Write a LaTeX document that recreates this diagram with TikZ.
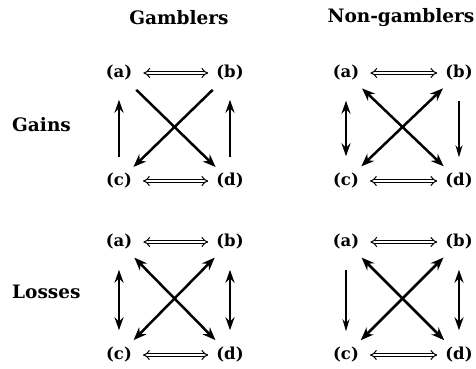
\documentclass[tikz,border=0pt]{standalone}
\usepackage{fontspec}
\setmainfont{DejaVu Serif}
\usetikzlibrary{arrows.meta}
\begin{document}
\begin{tikzpicture}[x=1pt,y=-1pt,
  lbl/.style={font=\fontsize{16.5}{19}\selectfont\bfseries, inner sep=0pt},
  ttl/.style={font=\fontsize{18.5}{21}\selectfont\bfseries, inner sep=0pt},
  tip/.style={Stealth[length=13pt,width=9pt]},
  harr/.style={draw=black, double=white, double distance=2.4pt, line width=1pt, {Implies}-{Implies}, shorten <=11pt, shorten >=8pt},
  varr/.style={line width=2.4pt, -{Stealth[length=13pt,width=9pt]}, shorten <=16pt, shorten >=19pt},
  vdbl/.style={line width=2.4pt, {Stealth[length=13pt,width=9pt]}-{Stealth[length=13pt,width=9pt]}, shorten <=20pt, shorten >=17pt},
  vthin/.style={line width=1.2pt, -{Stealth[length=12pt,width=7pt]}, shorten <=20pt, shorten >=16pt},
  darr/.style={line width=2.5pt, -{Stealth[length=13pt,width=10pt]}, shorten <=13pt, shorten >=9pt},
  ddbl/.style={line width=2.5pt, {Stealth[length=13pt,width=10pt]}-{Stealth[length=13pt,width=10pt]}, shorten <=11pt, shorten >=10pt}]
\useasboundingbox (0,0) rectangle (476,369);
\node[ttl] (tg) at (179,18) {Gamblers};
\node[ttl] (tn) at (401,18) {Non-gamblers};
\node[ttl, anchor=west] (rg) at (12,125) {Gains};
\node[ttl, anchor=west] (rl) at (12,292) {Losses};
% Gamblers gains
\node[lbl] (a1) at (119,73) {(a)};
\node[lbl] (b1) at (230,73) {(b)};
\node[lbl] (c1) at (119,181) {(c)};
\node[lbl] (d1) at (230,181) {(d)};
\draw[harr] (a1) -- (b1);
\draw[harr] (c1) -- (d1);
\draw[varr] (c1) -- (a1);
\draw[varr] (d1) -- (b1);
\draw[darr] (a1) -- (d1);
\draw[darr] (b1) -- (c1);
% Non-gamblers gains
\node[lbl] (a2) at (346,73) {(a)};
\node[lbl] (b2) at (459,73) {(b)};
\node[lbl] (c2) at (346,181) {(c)};
\node[lbl] (d2) at (459,181) {(d)};
\draw[harr] (a2) -- (b2);
\draw[harr] (c2) -- (d2);
\draw[vdbl] (a2) -- (c2);
\draw[vthin] (b2) -- (d2);
\draw[ddbl] (a2) -- (d2);
\draw[ddbl] (b2) -- (c2);
% Gamblers losses
\node[lbl] (a3) at (119,242) {(a)};
\node[lbl] (b3) at (230,242) {(b)};
\node[lbl] (c3) at (119,355) {(c)};
\node[lbl] (d3) at (230,355) {(d)};
\draw[harr] (a3) -- (b3);
\draw[harr] (c3) -- (d3);
\draw[vdbl] (a3) -- (c3);
\draw[vdbl] (b3) -- (d3);
\draw[ddbl] (a3) -- (d3);
\draw[ddbl] (b3) -- (c3);
% Non-gamblers losses
\node[lbl] (a4) at (346,242) {(a)};
\node[lbl] (b4) at (459,242) {(b)};
\node[lbl] (c4) at (346,355) {(c)};
\node[lbl] (d4) at (459,355) {(d)};
\draw[harr] (a4) -- (b4);
\draw[harr] (c4) -- (d4);
\draw[vthin] (a4) -- (c4);
\draw[vdbl] (b4) -- (d4);
\draw[ddbl] (a4) -- (d4);
\draw[ddbl] (b4) -- (c4);
\end{tikzpicture}
\end{document}
